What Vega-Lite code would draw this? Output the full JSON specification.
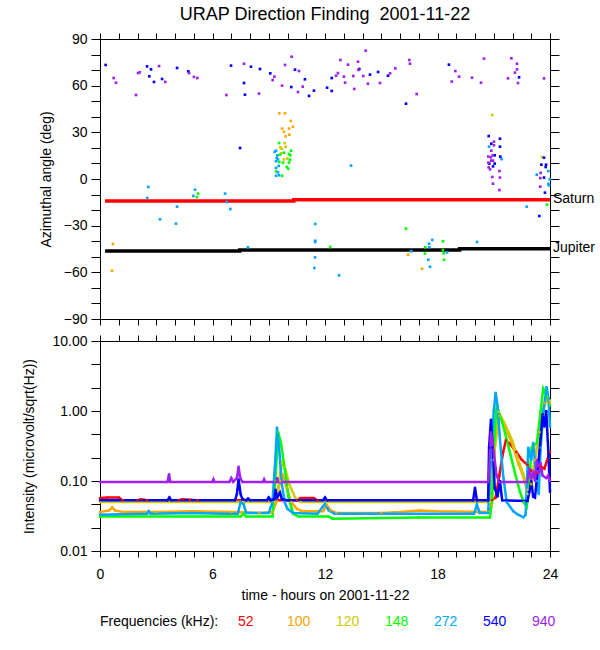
{
  "$schema": "https://vega.github.io/schema/vega-lite/v6.json",
  "background": "white",
  "padding": {"left": 22, "top": 6, "right": 0, "bottom": 0},
  "spacing": 8,
  "datasets": {
    "angles": [
      {"f":"100","t":0.69,"a":-41.8},{"f":"100","t":0.64,"a":-58.9},{"f":"100","t":9.56,"a":42.2},{"f":"100","t":9.87,"a":42.2},{"f":"100","t":10.17,"a":37.3},{"f":"100","t":10.29,"a":33.6},{"f":"100","t":10.08,"a":32.4},{"f":"100","t":9.71,"a":32.4},{"f":"100","t":9.81,"a":30.4},{"f":"100","t":10.10,"a":28.5},{"f":"100","t":9.90,"a":27.4},{"f":"100","t":16.43,"a":-48.7},{"f":"100","t":17.17,"a":-57.7},
      {"f":"120","t":9.85,"a":23.1},{"f":"120","t":9.69,"a":19.5},{"f":"120","t":9.62,"a":20.4},{"f":"120","t":9.67,"a":16.5},{"f":"120","t":9.81,"a":12.6},{"f":"120","t":9.90,"a":20.8},{"f":"120","t":9.99,"a":13.1},{"f":"120","t":20.92,"a":41.1},{"f":"120","t":23.57,"a":14.1},
      {"f":"148","t":5.23,"a":-9.4},{"f":"148","t":5.17,"a":-11.6},{"f":"148","t":9.55,"a":23.1},{"f":"148","t":10.19,"a":18.2},{"f":"148","t":10.08,"a":16.1},{"f":"148","t":10.15,"a":15.2},{"f":"148","t":9.60,"a":15.6},{"f":"148","t":9.81,"a":16.9},{"f":"148","t":10.13,"a":12.4},{"f":"148","t":10.08,"a":10.5},{"f":"148","t":9.76,"a":10.5},{"f":"148","t":9.96,"a":7.7},{"f":"148","t":10.04,"a":6.6},{"f":"148","t":9.71,"a":2.1},{"f":"148","t":9.56,"a":10.9},{"f":"148","t":9.39,"a":4.9},{"f":"148","t":12.28,"a":-43.7},{"f":"148","t":23.84,"a":-16.5},{"f":"148","t":16.32,"a":-31.9},{"f":"148","t":18.29,"a":-40.1},{"f":"148","t":17.35,"a":-43.9},{"f":"148","t":17.33,"a":-48.0},{"f":"148","t":18.33,"a":-47.8},{"f":"148","t":18.29,"a":-45.7},{"f":"148","t":18.35,"a":-51.9},
      {"f":"272","t":2.58,"a":-5.1},{"f":"272","t":2.52,"a":-12.2},{"f":"272","t":5.07,"a":-6.9},{"f":"272","t":4.98,"a":-10.9},{"f":"272","t":6.67,"a":-9.4},{"f":"272","t":6.76,"a":-14.8},{"f":"272","t":6.95,"a":-19.3},{"f":"272","t":4.11,"a":-17.8},{"f":"272","t":3.20,"a":-25.9},{"f":"272","t":4.05,"a":-28.7},{"f":"272","t":7.89,"a":-43.9},{"f":"272","t":9.39,"a":18.2},{"f":"272","t":9.46,"a":15.2},{"f":"272","t":9.49,"a":12.6},{"f":"272","t":9.39,"a":11.4},{"f":"272","t":9.53,"a":8.4},{"f":"272","t":9.39,"a":7.1},{"f":"272","t":9.49,"a":4.3},{"f":"272","t":9.39,"a":2.1},{"f":"272","t":9.55,"a":2.4},{"f":"272","t":9.32,"a":17.4},{"f":"272","t":9.42,"a":13.5},{"f":"272","t":13.39,"a":8.6},{"f":"272","t":11.48,"a":-28.9},{"f":"272","t":11.48,"a":-39.7},{"f":"272","t":11.47,"a":-40.5},{"f":"272","t":11.47,"a":-50.4},{"f":"272","t":11.43,"a":-57.2},{"f":"272","t":12.75,"a":-61.9},{"f":"272","t":20.75,"a":20.8},{"f":"272","t":21.42,"a":12.8},{"f":"272","t":23.91,"a":5.1},{"f":"272","t":23.29,"a":2.8},{"f":"272","t":23.99,"a":-0.2},{"f":"272","t":23.91,"a":-3.2},{"f":"272","t":23.96,"a":-4.1},{"f":"272","t":22.76,"a":-17.8},{"f":"272","t":17.72,"a":-39.2},{"f":"272","t":17.55,"a":-41.6},{"f":"272","t":17.56,"a":-43.9},{"f":"272","t":16.60,"a":-46.5},{"f":"272","t":18.51,"a":-47.2},{"f":"272","t":17.51,"a":-51.9},{"f":"272","t":17.60,"a":-56.4},{"f":"272","t":20.11,"a":-40.5},
      {"f":"540","t":0.30,"a":73.3},{"f":"540","t":2.51,"a":72.4},{"f":"540","t":2.72,"a":70.5},{"f":"540","t":2.63,"a":66.0},{"f":"540","t":2.88,"a":62.4},{"f":"540","t":3.31,"a":64.3},{"f":"540","t":4.11,"a":71.4},{"f":"540","t":4.71,"a":69.2},{"f":"540","t":6.99,"a":72.9},{"f":"540","t":7.68,"a":61.7},{"f":"540","t":7.73,"a":54.2},{"f":"540","t":7.47,"a":19.9},{"f":"540","t":8.05,"a":72.2},{"f":"540","t":8.53,"a":70.7},{"f":"540","t":9.08,"a":67.9},{"f":"540","t":10.40,"a":70.3},{"f":"540","t":10.93,"a":64.1},{"f":"540","t":10.20,"a":59.1},{"f":"540","t":11.41,"a":56.8},{"f":"540","t":11.15,"a":53.4},{"f":"540","t":12.11,"a":58.7},{"f":"540","t":12.36,"a":56.6},{"f":"540","t":12.36,"a":64.9},{"f":"540","t":13.83,"a":70.7},{"f":"540","t":14.40,"a":67.1},{"f":"540","t":14.83,"a":68.8},{"f":"540","t":15.36,"a":66.4},{"f":"540","t":18.61,"a":73.5},{"f":"540","t":22.35,"a":65.4},{"f":"540","t":16.32,"a":48.4},{"f":"540","t":20.73,"a":27.6},{"f":"540","t":21.33,"a":25.9},{"f":"540","t":20.87,"a":22.7},{"f":"540","t":21.33,"a":20.8},{"f":"540","t":21.05,"a":15.2},{"f":"540","t":21.35,"a":14.4},{"f":"540","t":21.05,"a":9.9},{"f":"540","t":20.76,"a":9.9},{"f":"540","t":20.96,"a":8.1},{"f":"540","t":23.68,"a":13.7},{"f":"540","t":23.54,"a":9.2},{"f":"540","t":23.79,"a":9.2},{"f":"540","t":23.77,"a":7.7},{"f":"540","t":23.68,"a":0.9},{"f":"540","t":23.73,"a":-8.8},{"f":"540","t":23.43,"a":-23.8},
      {"f":"940","t":0.73,"a":64.9},{"f":"940","t":0.85,"a":61.9},{"f":"940","t":3.15,"a":72.6},{"f":"940","t":2.03,"a":68.1},{"f":"940","t":2.12,"a":68.6},{"f":"940","t":1.92,"a":54.0},{"f":"940","t":3.48,"a":62.4},{"f":"940","t":4.75,"a":68.1},{"f":"940","t":5.01,"a":65.6},{"f":"940","t":5.19,"a":64.9},{"f":"940","t":7.68,"a":74.1},{"f":"940","t":6.74,"a":54.0},{"f":"940","t":10.22,"a":78.6},{"f":"940","t":9.30,"a":65.8},{"f":"940","t":9.21,"a":63.6},{"f":"940","t":9.87,"a":73.3},{"f":"940","t":10.61,"a":69.4},{"f":"940","t":9.71,"a":60.0},{"f":"940","t":10.81,"a":59.4},{"f":"940","t":10.56,"a":55.9},{"f":"940","t":8.48,"a":54.9},{"f":"940","t":12.82,"a":76.5},{"f":"940","t":13.23,"a":73.5},{"f":"940","t":13.76,"a":75.4},{"f":"940","t":14.17,"a":82.5},{"f":"940","t":12.69,"a":68.1},{"f":"940","t":12.59,"a":66.4},{"f":"940","t":13.01,"a":65.8},{"f":"940","t":13.51,"a":66.2},{"f":"940","t":14.04,"a":66.2},{"f":"940","t":13.78,"a":70.1},{"f":"940","t":13.07,"a":61.9},{"f":"940","t":13.56,"a":57.9},{"f":"940","t":14.29,"a":61.3},{"f":"940","t":14.93,"a":61.7},{"f":"940","t":15.47,"a":67.9},{"f":"940","t":15.75,"a":71.1},{"f":"940","t":16.50,"a":76.5},{"f":"940","t":16.53,"a":74.1},{"f":"940","t":18.95,"a":69.4},{"f":"940","t":19.15,"a":65.8},{"f":"940","t":18.76,"a":62.6},{"f":"940","t":19.84,"a":65.1},{"f":"940","t":20.32,"a":61.9},{"f":"940","t":20.48,"a":77.4},{"f":"940","t":21.94,"a":77.6},{"f":"940","t":22.24,"a":74.1},{"f":"940","t":22.24,"a":70.5},{"f":"940","t":22.13,"a":68.4},{"f":"940","t":21.76,"a":64.7},{"f":"940","t":22.29,"a":61.7},{"f":"940","t":23.68,"a":64.7},{"f":"940","t":16.89,"a":54.6},{"f":"940","t":21.01,"a":24.0},{"f":"940","t":21.01,"a":21.7},{"f":"940","t":20.87,"a":18.2},{"f":"940","t":20.71,"a":14.4},{"f":"940","t":20.84,"a":13.9},{"f":"940","t":20.94,"a":15.2},{"f":"940","t":20.71,"a":10.5},{"f":"940","t":20.96,"a":11.8},{"f":"940","t":20.73,"a":7.5},{"f":"940","t":20.80,"a":6.2},{"f":"940","t":21.30,"a":5.1},{"f":"940","t":20.92,"a":1.3},{"f":"940","t":21.33,"a":0.9},{"f":"940","t":20.96,"a":-3.0},{"f":"940","t":21.30,"a":-7.1},{"f":"940","t":20.87,"a":11.8},{"f":"940","t":23.50,"a":3.9},{"f":"940","t":23.48,"a":0.6},{"f":"940","t":23.48,"a":-4.9}
    ],
    "planets": [
      {"body":"Saturn","t":0.27,"a":-14.1},{"body":"Saturn","t":10.33,"a":-13.3},{"body":"Saturn","t":24,"a":-13.3},
      {"body":"Jupiter","t":0.27,"a":-46.3},{"body":"Jupiter","t":7.45,"a":-45.6},{"body":"Jupiter","t":19.18,"a":-44.8},{"body":"Jupiter","t":24,"a":-44.8}
    ],
    "intensity": [
      {"f":"52","t":0,"v":0.057},{"f":"52","t":0.4,"v":0.058},{"f":"52","t":1.0,"v":0.058},{"f":"52","t":1.2,"v":0.053},{"f":"52","t":2.0,"v":0.053},{"f":"52","t":2.2,"v":0.055},{"f":"52","t":2.5,"v":0.053},{"f":"52","t":4.2,"v":0.053},{"f":"52","t":4.4,"v":0.055},{"f":"52","t":4.8,"v":0.054},{"f":"52","t":5.2,"v":0.053},{"f":"52","t":10.5,"v":0.053},{"f":"52","t":10.7,"v":0.057},{"f":"52","t":11.4,"v":0.057},{"f":"52","t":11.6,"v":0.053},{"f":"52","t":20.9,"v":0.053},{"f":"52","t":21.1,"v":0.058},{"f":"52","t":21.3,"v":0.12},{"f":"52","t":21.5,"v":0.26},{"f":"52","t":21.65,"v":0.38},{"f":"52","t":21.9,"v":0.33},{"f":"52","t":22.2,"v":0.26},{"f":"52","t":22.5,"v":0.2},{"f":"52","t":22.8,"v":0.17},{"f":"52","t":23.0,"v":0.14},{"f":"52","t":23.3,"v":0.13},{"f":"52","t":23.5,"v":0.16},{"f":"52","t":23.7,"v":0.15},{"f":"52","t":23.85,"v":0.2},{"f":"52","t":24,"v":0.26},
      {"f":"100","t":0,"v":0.036},{"f":"100","t":0.5,"v":0.038},{"f":"100","t":0.65,"v":0.042},{"f":"100","t":0.8,"v":0.038},{"f":"100","t":1.2,"v":0.036},{"f":"100","t":3,"v":0.036},{"f":"100","t":5,"v":0.037},{"f":"100","t":7,"v":0.036},{"f":"100","t":8.5,"v":0.035},{"f":"100","t":9.2,"v":0.036},{"f":"100","t":9.4,"v":0.05},{"f":"100","t":9.6,"v":0.1},{"f":"100","t":9.75,"v":0.12},{"f":"100","t":9.95,"v":0.08},{"f":"100","t":10.2,"v":0.05},{"f":"100","t":10.5,"v":0.04},{"f":"100","t":10.8,"v":0.037},{"f":"100","t":11.9,"v":0.037},{"f":"100","t":12.1,"v":0.045},{"f":"100","t":12.3,"v":0.038},{"f":"100","t":12.6,"v":0.035},{"f":"100","t":15,"v":0.035},{"f":"100","t":16,"v":0.036},{"f":"100","t":17,"v":0.038},{"f":"100","t":18,"v":0.037},{"f":"100","t":20.7,"v":0.036},{"f":"100","t":20.9,"v":0.045},{"f":"100","t":21.05,"v":0.3},{"f":"100","t":21.3,"v":0.85},{"f":"100","t":21.6,"v":0.6},{"f":"100","t":22.0,"v":0.33},{"f":"100","t":22.3,"v":0.18},{"f":"100","t":22.6,"v":0.11},{"f":"100","t":22.8,"v":0.075},{"f":"100","t":23.0,"v":0.09},{"f":"100","t":23.2,"v":0.2},{"f":"100","t":23.45,"v":0.5},{"f":"100","t":23.7,"v":1.3},{"f":"100","t":23.9,"v":1.5},{"f":"100","t":24,"v":1.3},
      {"f":"120","t":0,"v":0.05},{"f":"120","t":9.3,"v":0.05},{"f":"120","t":9.5,"v":0.08},{"f":"120","t":9.7,"v":0.18},{"f":"120","t":9.85,"v":0.16},{"f":"120","t":10.1,"v":0.09},{"f":"120","t":10.4,"v":0.058},{"f":"120","t":10.7,"v":0.05},{"f":"120","t":20.8,"v":0.05},{"f":"120","t":21.0,"v":0.2},{"f":"120","t":21.25,"v":0.97},{"f":"120","t":21.6,"v":0.65},{"f":"120","t":22.0,"v":0.37},{"f":"120","t":22.3,"v":0.2},{"f":"120","t":22.6,"v":0.12},{"f":"120","t":22.8,"v":0.065},{"f":"120","t":23.0,"v":0.1},{"f":"120","t":23.3,"v":0.3},{"f":"120","t":23.6,"v":0.9},{"f":"120","t":23.85,"v":1.6},{"f":"120","t":24,"v":1.4},
      {"f":"148","t":0,"v":0.031},{"f":"148","t":7.5,"v":0.031},{"f":"148","t":7.65,"v":0.034},{"f":"148","t":7.8,"v":0.031},{"f":"148","t":9.2,"v":0.031},{"f":"148","t":9.35,"v":0.1},{"f":"148","t":9.5,"v":0.5},{"f":"148","t":9.65,"v":0.35},{"f":"148","t":9.85,"v":0.15},{"f":"148","t":10.05,"v":0.06},{"f":"148","t":10.3,"v":0.034},{"f":"148","t":10.6,"v":0.031},{"f":"148","t":12.2,"v":0.031},{"f":"148","t":12.4,"v":0.029},{"f":"148","t":17,"v":0.03},{"f":"148","t":20.8,"v":0.03},{"f":"148","t":20.9,"v":0.05},{"f":"148","t":21.05,"v":0.5},{"f":"148","t":21.16,"v":1.2},{"f":"148","t":21.5,"v":0.62},{"f":"148","t":21.8,"v":0.3},{"f":"148","t":22.13,"v":0.13},{"f":"148","t":22.4,"v":0.07},{"f":"148","t":22.6,"v":0.05},{"f":"148","t":22.76,"v":0.043},{"f":"148","t":22.9,"v":0.1},{"f":"148","t":23.02,"v":0.3},{"f":"148","t":23.3,"v":0.35},{"f":"148","t":23.5,"v":1.0},{"f":"148","t":23.64,"v":2.1},{"f":"148","t":23.85,"v":1.6},{"f":"148","t":24,"v":1.2},
      {"f":"272","t":0,"v":0.033},{"f":"272","t":2.5,"v":0.034},{"f":"272","t":2.6,"v":0.037},{"f":"272","t":2.7,"v":0.034},{"f":"272","t":5,"v":0.035},{"f":"272","t":6.5,"v":0.034},{"f":"272","t":7.35,"v":0.034},{"f":"272","t":7.5,"v":0.05},{"f":"272","t":7.65,"v":0.047},{"f":"272","t":7.8,"v":0.035},{"f":"272","t":9.0,"v":0.035},{"f":"272","t":9.2,"v":0.05},{"f":"272","t":9.35,"v":0.2},{"f":"272","t":9.44,"v":0.58},{"f":"272","t":9.55,"v":0.3},{"f":"272","t":9.7,"v":0.09},{"f":"272","t":9.85,"v":0.05},{"f":"272","t":10.0,"v":0.04},{"f":"272","t":10.3,"v":0.035},{"f":"272","t":11.6,"v":0.034},{"f":"272","t":11.85,"v":0.042},{"f":"272","t":12.0,"v":0.047},{"f":"272","t":12.2,"v":0.038},{"f":"272","t":12.5,"v":0.034},{"f":"272","t":16,"v":0.034},{"f":"272","t":19.95,"v":0.034},{"f":"272","t":20.1,"v":0.046},{"f":"272","t":20.25,"v":0.035},{"f":"272","t":20.7,"v":0.035},{"f":"272","t":20.85,"v":0.2},{"f":"272","t":21.0,"v":1.0},{"f":"272","t":21.1,"v":1.82},{"f":"272","t":21.2,"v":1.2},{"f":"272","t":21.33,"v":0.4},{"f":"272","t":21.5,"v":0.12},{"f":"272","t":21.69,"v":0.05},{"f":"272","t":22.04,"v":0.037},{"f":"272","t":22.3,"v":0.033},{"f":"272","t":22.58,"v":0.0303},{"f":"272","t":22.7,"v":0.033},{"f":"272","t":22.84,"v":0.3},{"f":"272","t":23.0,"v":0.2},{"f":"272","t":23.1,"v":0.35},{"f":"272","t":23.3,"v":0.1},{"f":"272","t":23.4,"v":0.065},{"f":"272","t":23.5,"v":0.3},{"f":"272","t":23.65,"v":1.0},{"f":"272","t":23.82,"v":2.2},{"f":"272","t":23.92,"v":1.5},{"f":"272","t":24,"v":0.6},
      {"f":"540","t":0,"v":0.053},{"f":"540","t":3.6,"v":0.053},{"f":"540","t":3.7,"v":0.058},{"f":"540","t":3.8,"v":0.053},{"f":"540","t":7.2,"v":0.053},{"f":"540","t":7.3,"v":0.065},{"f":"540","t":7.39,"v":0.105},{"f":"540","t":7.5,"v":0.065},{"f":"540","t":7.6,"v":0.055},{"f":"540","t":7.8,"v":0.053},{"f":"540","t":7.9,"v":0.056},{"f":"540","t":8.0,"v":0.053},{"f":"540","t":8.9,"v":0.053},{"f":"540","t":9.0,"v":0.058},{"f":"540","t":9.1,"v":0.053},{"f":"540","t":9.3,"v":0.055},{"f":"540","t":9.36,"v":0.075},{"f":"540","t":9.45,"v":0.058},{"f":"540","t":9.6,"v":0.068},{"f":"540","t":9.7,"v":0.055},{"f":"540","t":10.0,"v":0.053},{"f":"540","t":11.9,"v":0.053},{"f":"540","t":12.0,"v":0.058},{"f":"540","t":12.1,"v":0.053},{"f":"540","t":19.9,"v":0.053},{"f":"540","t":20.0,"v":0.08},{"f":"540","t":20.1,"v":0.053},{"f":"540","t":20.7,"v":0.053},{"f":"540","t":20.75,"v":0.3},{"f":"540","t":20.85,"v":0.75},{"f":"540","t":20.95,"v":0.3},{"f":"540","t":21.05,"v":0.08},{"f":"540","t":21.2,"v":0.06},{"f":"540","t":21.33,"v":0.1},{"f":"540","t":21.45,"v":0.053},{"f":"540","t":22.8,"v":0.052},{"f":"540","t":22.9,"v":0.07},{"f":"540","t":23.0,"v":0.1},{"f":"540","t":23.1,"v":0.06},{"f":"540","t":23.2,"v":0.058},{"f":"540","t":23.35,"v":0.15},{"f":"540","t":23.5,"v":0.4},{"f":"540","t":23.6,"v":0.9},{"f":"540","t":23.7,"v":0.6},{"f":"540","t":23.8,"v":1.0},{"f":"540","t":23.9,"v":0.3},{"f":"540","t":24,"v":0.07},
      {"f":"940","t":0,"v":0.097},{"f":"940","t":3.6,"v":0.097},{"f":"940","t":3.68,"v":0.125},{"f":"940","t":3.75,"v":0.097},{"f":"940","t":6.0,"v":0.097},{"f":"940","t":6.05,"v":0.105},{"f":"940","t":6.1,"v":0.097},{"f":"940","t":6.9,"v":0.097},{"f":"940","t":7.0,"v":0.11},{"f":"940","t":7.1,"v":0.097},{"f":"940","t":7.3,"v":0.11},{"f":"940","t":7.39,"v":0.16},{"f":"940","t":7.48,"v":0.11},{"f":"940","t":7.6,"v":0.097},{"f":"940","t":8.7,"v":0.097},{"f":"940","t":8.75,"v":0.105},{"f":"940","t":8.8,"v":0.097},{"f":"940","t":9.4,"v":0.097},{"f":"940","t":9.45,"v":0.11},{"f":"940","t":9.5,"v":0.097},{"f":"940","t":20.7,"v":0.097},{"f":"940","t":20.75,"v":0.13},{"f":"940","t":20.85,"v":0.5},{"f":"940","t":20.95,"v":0.35},{"f":"940","t":21.05,"v":0.2},{"f":"940","t":21.15,"v":0.12},{"f":"940","t":21.3,"v":0.097},{"f":"940","t":22.8,"v":0.097},{"f":"940","t":22.9,"v":0.15},{"f":"940","t":23.0,"v":0.11},{"f":"940","t":23.1,"v":0.13},{"f":"940","t":23.2,"v":0.1},{"f":"940","t":23.3,"v":0.2},{"f":"940","t":23.4,"v":0.13},{"f":"940","t":23.5,"v":0.18},{"f":"940","t":23.6,"v":0.12},{"f":"940","t":23.8,"v":0.11},{"f":"940","t":23.9,"v":0.12},{"f":"940","t":24,"v":0.1}
    ]
  },
  "vconcat": [
    {
      "title": {"text": "URAP Direction Finding \u00a02001-11-22", "fontSize": 18, "fontWeight": "normal", "anchor": "middle", "offset": 8},
      "width": 450,
      "height": 280,
      "layer": [
        {
          "data": {"name": "planets"},
          "mark": {"type": "line", "strokeWidth": 3.5, "interpolate": "step-after"},
          "encoding": {
            "x": {"field": "t", "type": "quantitative", "scale": {"domain": [0, 24], "nice": false},
              "axis": {"orient": "top", "values": [0,1,2,3,4,5,6,7,8,9,10,11,12,13,14,15,16,17,18,19,20,21,22,23,24], "labels": false, "title": null, "tickSize": 6,
                "encode": {"ticks": {"update": {"y2": {"signal": "datum.value % 6 === 0 ? -6 : -3"}}}}}},
            "y": {"field": "a", "type": "quantitative", "scale": {"domain": [-90, 90], "nice": false, "zero": false},
              "axis": {"orient": "right", "values": [-90,-80,-70,-60,-50,-40,-30,-20,-10,0,10,20,30,40,50,60,70,80,90], "labels": false, "title": null, "tickSize": 9,
                "encode": {"ticks": {"update": {"x2": {"signal": "datum.value % 30 === 0 ? 9 : 5"}}}}}},
            "detail": {"field": "body"},
            "color": {"condition": {"test": "datum.body === 'Saturn'", "value": "#ff0000"}, "value": "#000000"}
          }
        },
        {
          "data": {"name": "angles"},
          "mark": {"type": "square", "size": 7, "opacity": 1},
          "encoding": {
            "x": {"field": "t", "type": "quantitative",
              "axis": {"orient": "bottom", "values": [0,1,2,3,4,5,6,7,8,9,10,11,12,13,14,15,16,17,18,19,20,21,22,23,24], "labels": false, "title": null, "tickSize": 6,
                "encode": {"ticks": {"update": {"y2": {"signal": "datum.value % 6 === 0 ? 6 : 3"}}}}}},
            "y": {"field": "a", "type": "quantitative",
              "axis": {"orient": "left", "values": [-90,-80,-70,-60,-50,-40,-30,-20,-10,0,10,20,30,40,50,60,70,80,90], "labelExpr": "datum.value % 30 === 0 ? datum.label : ''", "title": "Azimuthal angle (deg)", "tickSize": 9, "labelPadding": 4, "titlePadding": 10,
                "encode": {"ticks": {"update": {"x2": {"signal": "datum.value % 30 === 0 ? -9 : -5"}}}}}},
            "color": {"field": "f", "type": "nominal",
              "scale": {"domain": ["52","100","120","148","272","540","940"], "range": ["#ff0000","#ffa500","#cccc00","#00ff00","#00a5ff","#0000ff","#a020f0"]},
              "legend": {"title": "Frequencies (kHz):", "orient": "none", "legendX": 0, "legendY": 576, "direction": "horizontal", "columns": 7, "titleOrient": "left", "titlePadding": 5, "symbolSize": 0, "symbolStrokeWidth": 0, "symbolOpacity": 0, "labelOffset": 0, "columnPadding": 11, "gridAlign": "all",
                "encode": {"labels": {"update": {"fill": {"scale": "color", "field": "value"}}}}}}
          }
        },
        {
          "data": {"name": "planets"},
          "transform": [{"filter": "datum.t === 24"}],
          "mark": {"type": "text", "align": "left", "baseline": "middle", "dx": 3, "dy": -1, "fontSize": 14, "color": "#000000"},
          "encoding": {
            "x": {"field": "t", "type": "quantitative", "axis": null},
            "y": {"field": "a", "type": "quantitative", "axis": null},
            "text": {"field": "body"}
          }
        }
      ],
      "resolve": {"axis": {"x": "independent", "y": "independent"}}
    },
    {
      "width": 450,
      "height": 210,
      "data": {"name": "intensity"},
      "layer": [
        {
          "mark": {"type": "line", "strokeWidth": 2.5},
          "encoding": {
            "x": {"field": "t", "type": "quantitative", "scale": {"domain": [0, 24], "nice": false},
              "axis": {"orient": "bottom", "values": [0,1,2,3,4,5,6,7,8,9,10,11,12,13,14,15,16,17,18,19,20,21,22,23,24], "labelExpr": "datum.value % 6 === 0 ? datum.label : ''", "title": "time - hours on 2001-11-22", "tickSize": 6, "labelPadding": 10, "titlePadding": 7,
                "encode": {"ticks": {"update": {"y2": {"signal": "datum.value % 6 === 0 ? 6 : 3"}}}}}},
            "y": {"field": "v", "type": "quantitative", "scale": {"type": "log", "domain": [0.01, 10], "nice": false},
              "axis": {"orient": "left", "values": [0.01,0.0215,0.0464,0.1,0.215,0.464,1,2.15,4.64,10], "format": ".2f", "labelExpr": "indexof([0.01,0.1,1,10], datum.value) >= 0 ? datum.label : ''", "title": "Intensity (microvolt/sqrt(Hz))", "tickSize": 9, "labelPadding": 4, "titlePadding": 15,
                "encode": {"ticks": {"update": {"x2": {"signal": "indexof([0.01,0.1,1,10], datum.value) >= 0 ? -9 : -5"}}}}}},
            "color": {"field": "f", "type": "nominal",
              "scale": {"domain": ["52","100","120","148","272","540","940"], "range": ["#ff0000","#ffa500","#cccc00","#00ff00","#00a5ff","#0000ff","#a020f0"]},
              "legend": {"title": "Frequencies (kHz):", "orient": "none", "legendX": 0, "legendY": 576, "direction": "horizontal", "columns": 7, "titleOrient": "left", "titlePadding": 5, "symbolSize": 0, "symbolStrokeWidth": 0, "symbolOpacity": 0, "labelOffset": 0, "columnPadding": 11, "gridAlign": "all",
                "encode": {"labels": {"update": {"fill": {"scale": "color", "field": "value"}}}}}}
          }
        },
        {
          "mark": {"type": "square", "size": 5, "opacity": 1},
          "encoding": {
            "x": {"field": "t", "type": "quantitative",
              "axis": {"orient": "top", "values": [0,1,2,3,4,5,6,7,8,9,10,11,12,13,14,15,16,17,18,19,20,21,22,23,24], "labels": false, "title": null, "tickSize": 6,
                "encode": {"ticks": {"update": {"y2": {"signal": "datum.value % 6 === 0 ? -6 : -3"}}}}}},
            "y": {"field": "v", "type": "quantitative",
              "axis": {"orient": "right", "values": [0.01,0.0215,0.0464,0.1,0.215,0.464,1,2.15,4.64,10], "labels": false, "title": null, "tickSize": 9,
                "encode": {"ticks": {"update": {"x2": {"signal": "indexof([0.01,0.1,1,10], datum.value) >= 0 ? 9 : 5"}}}}}},
            "color": {"field": "f", "type": "nominal",
              "scale": {"domain": ["52","100","120","148","272","540","940"], "range": ["#ff0000","#ffa500","#cccc00","#00ff00","#00a5ff","#0000ff","#a020f0"]},
              "legend": {"title": "Frequencies (kHz):", "orient": "none", "legendX": 0, "legendY": 576, "direction": "horizontal", "columns": 7, "titleOrient": "left", "titlePadding": 5, "symbolSize": 0, "symbolStrokeWidth": 0, "symbolOpacity": 0, "labelOffset": 0, "columnPadding": 11, "gridAlign": "all",
                "encode": {"labels": {"update": {"fill": {"scale": "color", "field": "value"}}}}}}
          }
        }
      ],
      "resolve": {"axis": {"x": "independent", "y": "independent"}}
    }
  ],
  "config": {
    "font": "Liberation Sans",
    "view": {"stroke": null},
    "title": {"color": "#000000"},
    "axis": {
      "grid": false,
      "domainColor": "#000000",
      "domainWidth": 1,
      "tickColor": "#000000",
      "tickWidth": 1,
      "labelColor": "#000000",
      "labelFontSize": 14,
      "labelFlush": false,
      "labelOverlap": false,
      "labelBound": false,
      "titleColor": "#000000",
      "titleFontSize": 14,
      "titleFontWeight": "normal"
    },
    "legend": {
      "labelFontSize": 14,
      "titleFontSize": 14,
      "titleFontWeight": "normal",
      "titleColor": "#000000"
    }
  }
}
